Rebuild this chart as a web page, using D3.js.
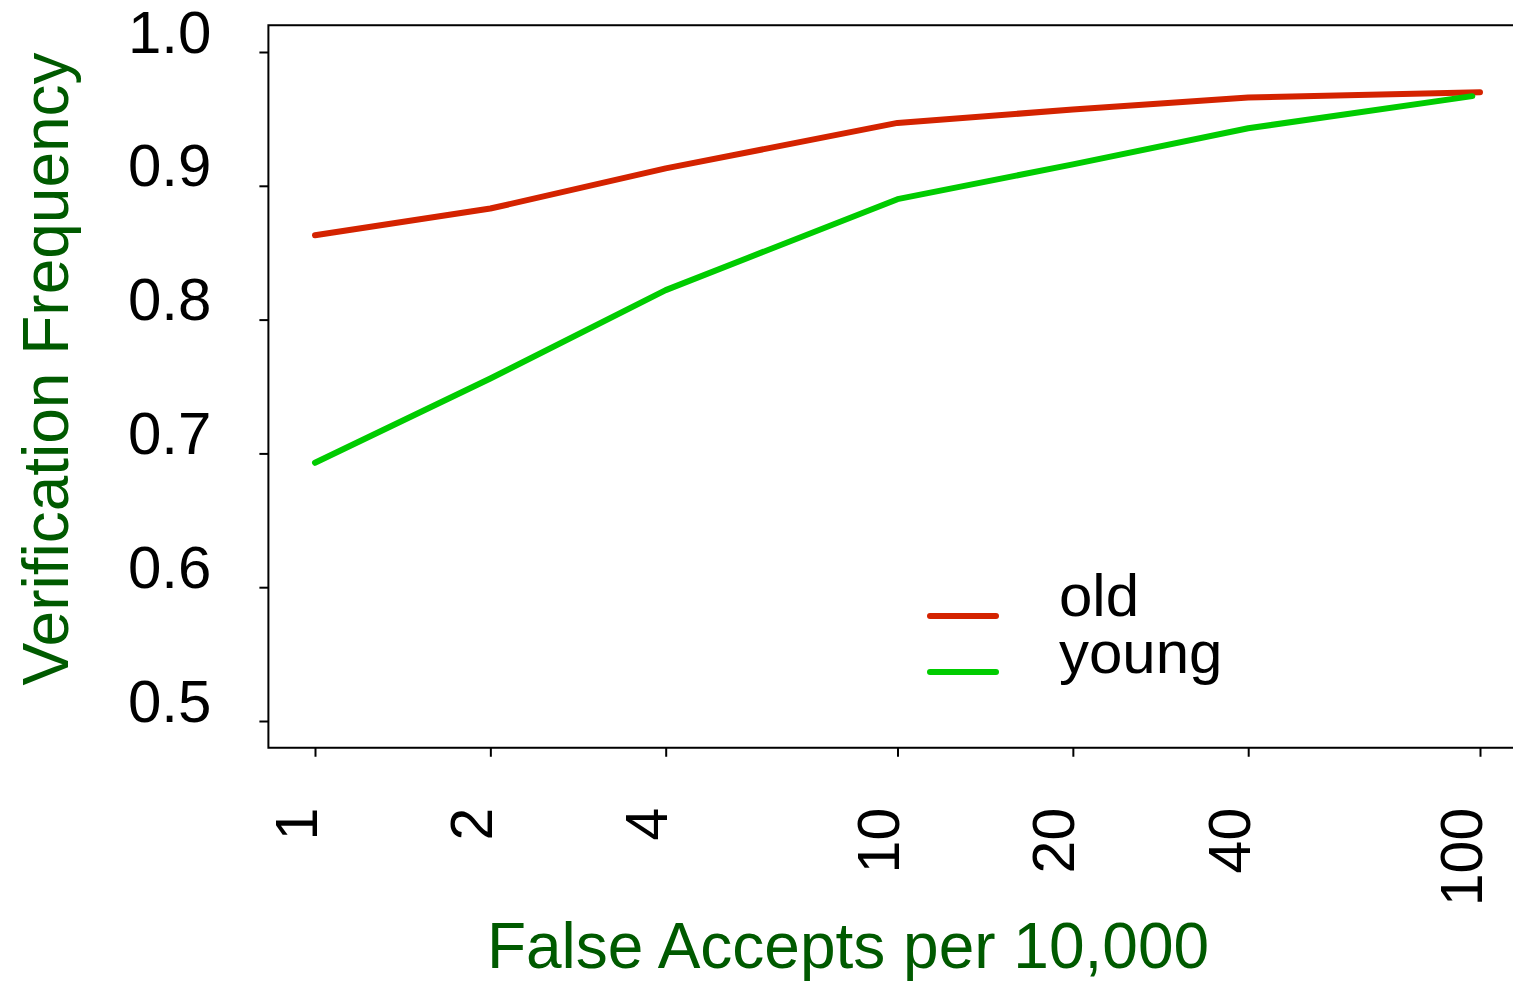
<!DOCTYPE html>
<html><head><meta charset="utf-8">
<script src="https://cdn.jsdelivr.net/npm/d3@7"></script>
<style>html,body{margin:0;padding:0;background:#fff;overflow:hidden}</style>
</head><body>
<svg id="c" width="1513" height="981"></svg>
<script>
const xTicks = [1, 2, 4, 10, 20, 40, 100];
const yTicks = [0.5, 0.6, 0.7, 0.8, 0.9, 1.0];
const oldX = [1, 2, 4, 10, 20, 40, 100];
const oldY = [0.863, 0.883, 0.913, 0.947, 0.957, 0.966, 0.970];
const youngX = [1, 2, 4, 10, 20, 40, 97];
const youngY = [0.693, 0.756, 0.822, 0.890, 0.916, 0.943, 0.967];
const seriesNames = ["old", "young"];
const seriesColors = ["#d42300", "#00cc00"];

const svg = d3.select("#c");
const font = "'Liberation Sans', Arial, Helvetica, sans-serif";
const x = d3.scaleLog().domain([1, 100]).range([315, 1480]);
const y = d3.scaleLinear().domain([0.5, 1.0]).range([721, 52]);
const xLeft = x(Math.pow(10, -0.08)), xRight = x(Math.pow(10, 2.08));
const yTop = y(1.02), yBot = y(0.48);

svg.append("rect").attr("x", xLeft).attr("y", yTop)
  .attr("width", xRight - xLeft).attr("height", yBot - yTop)
  .attr("fill", "none").attr("stroke", "#000").attr("stroke-width", 2);

// y axis
const yAxis = svg.append("g").attr("transform", `translate(${xLeft},0)`)
  .call(d3.axisLeft(y).tickValues(yTicks).tickSize(9).tickFormat(d3.format(".1f")));
yAxis.select(".domain").remove();
yAxis.selectAll(".tick line").attr("stroke", "#000").attr("stroke-width", 2);
yAxis.selectAll(".tick text").attr("font-family", font).attr("font-size", 60)
  .attr("fill", "#000").attr("x", -57).attr("dy", 0);

// x axis
const xAxis = svg.append("g").attr("transform", `translate(0,${yBot})`)
  .call(d3.axisBottom(x).tickValues(xTicks).tickSize(9).tickFormat(d3.format("d")));
xAxis.select(".domain").remove();
xAxis.selectAll(".tick line").attr("stroke", "#000").attr("stroke-width", 2);
xAxis.selectAll(".tick text").attr("font-family", font).attr("font-size", 59)
  .attr("fill", "#000").attr("y", 0).attr("dy", 0)
  .attr("text-anchor", "end")
  .attr("transform", "translate(1,60) rotate(-90)");

// lines
const line = d3.line().x(d => x(d[0])).y(d => y(d[1]));
const data = [d3.zip(oldX, oldY), d3.zip(youngX, youngY)];
data.forEach((dd, i) => {
  svg.append("path").datum(dd).attr("d", line)
    .attr("fill", "none").attr("stroke", seriesColors[i]).attr("stroke-width", 6)
    .attr("stroke-linecap", "round").attr("stroke-linejoin", "round");
});

// legend
const legY = [616, 672];
const legTextY = [616, 673];
seriesNames.forEach((n, i) => {
  svg.append("line").attr("x1", 930).attr("x2", 996).attr("y1", legY[i]).attr("y2", legY[i])
    .attr("stroke", seriesColors[i]).attr("stroke-width", 6).attr("stroke-linecap", "round");
  svg.append("text").attr("x", 1059).attr("y", legTextY[i]).text(n)
    .attr("font-family", font).attr("font-size", 60).attr("fill", "#000");
});

// axis titles
svg.append("text").attr("x", 848).attr("y", 968).attr("text-anchor", "middle")
  .attr("font-family", font).attr("font-size", 64).attr("fill", "#005a00")
  .text("False Accepts per 10,000");
svg.append("text").attr("transform", "translate(68,369) rotate(-90)").attr("text-anchor", "middle")
  .attr("font-family", font).attr("font-size", 64).attr("fill", "#005a00")
  .text("Verification Frequency");
</script>
</body></html>
